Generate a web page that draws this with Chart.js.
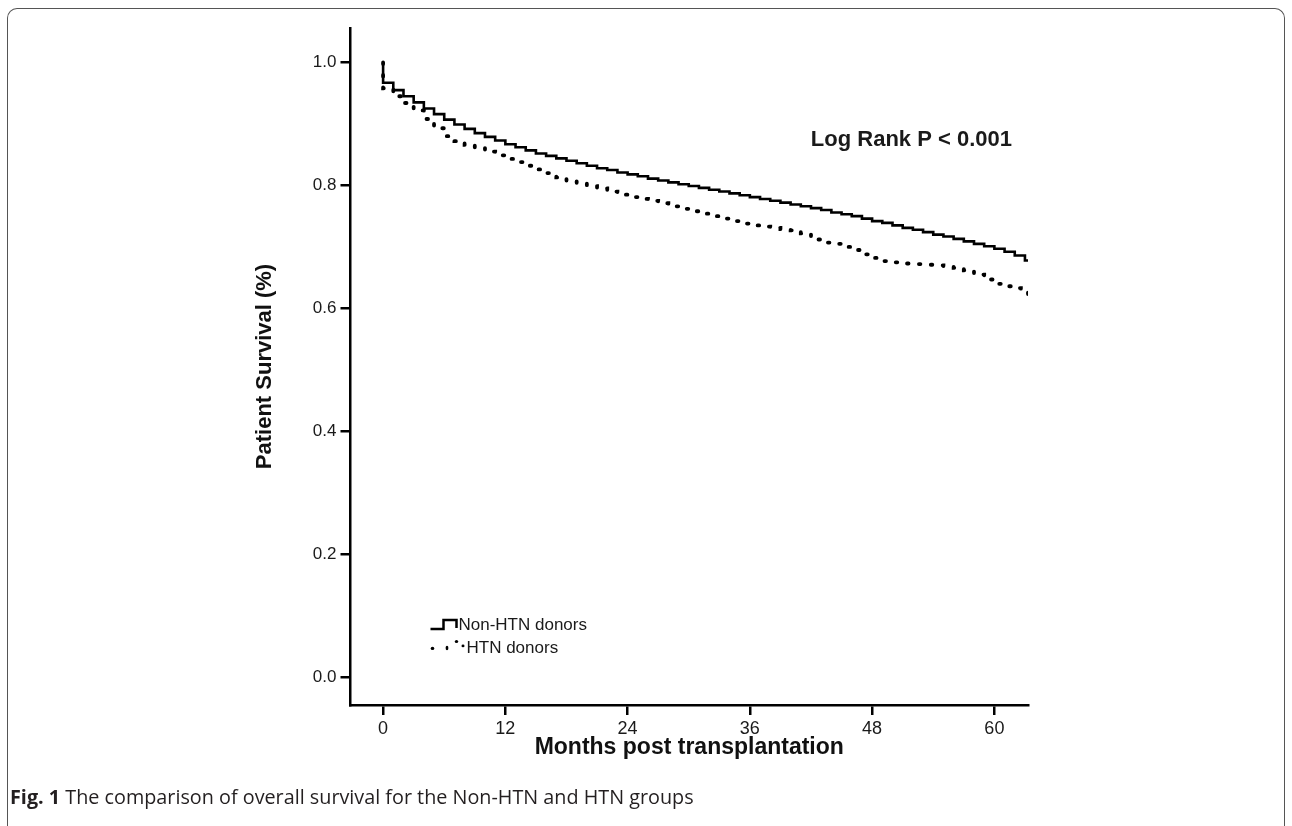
<!DOCTYPE html>
<html>
<head>
<meta charset="utf-8">
<script src="https://cdn.jsdelivr.net/npm/chart.js@4.4.1/dist/chart.umd.min.js"></script>
<style>
  html, body { margin: 0; padding: 0; background: #fff; }
  body { width: 1292px; height: 826px; position: relative; overflow: hidden; }
  #frame {
    position: absolute; left: 7px; top: 8px; width: 1276px; height: 830px;
    border: 1px solid #555; border-bottom: none; border-radius: 10px 10px 0 0;
  }
  #survivalChart { position: absolute; left: 0; top: 0; }
  #caption {
    position: absolute; left: 10px; top: 784px; font: 19.8px "Open Sans", "Noto Sans", sans-serif;
    line-height: 26px; color: #231f20; white-space: nowrap;
  }
  #caption b { font-weight: 700; }
</style>
</head>
<body>
<div id="frame"></div>
<canvas id="survivalChart" width="1292" height="826"></canvas>
<div id="caption"><b>Fig. 1</b> The comparison of overall survival for the Non-HTN and HTN groups</div>
<script>
// months post transplantation and survival proportions (Kaplan-Meier steps)
const nonHtnMonths = [0, 0, 1, 2, 3, 4, 5, 6, 7, 8, 9, 10, 11, 12, 13, 14, 15, 16, 17, 18, 19, 20,
  21, 22, 23, 24, 25, 26, 27, 28, 29, 30, 31, 32, 33, 34, 35, 36, 37, 38, 39, 40, 41, 42, 43, 44,
  45, 46, 47, 48, 49, 50, 51, 52, 53, 54, 55, 56, 57, 58, 59, 60, 61, 62, 63, 63.3];
const nonHtnSurvival = [1.0, 0.967, 0.955, 0.945, 0.935, 0.925, 0.916, 0.907, 0.899, 0.892, 0.885,
  0.879, 0.873, 0.867, 0.862, 0.857, 0.852, 0.848, 0.844, 0.840, 0.836, 0.832, 0.828, 0.825, 0.821,
  0.818, 0.815, 0.811, 0.808, 0.805, 0.802, 0.799, 0.796, 0.793, 0.790, 0.787, 0.784, 0.781, 0.778,
  0.775, 0.772, 0.769, 0.766, 0.763, 0.760, 0.756, 0.753, 0.750, 0.746, 0.742, 0.739, 0.735, 0.731,
  0.728, 0.724, 0.720, 0.717, 0.713, 0.709, 0.705, 0.701, 0.697, 0.692, 0.686, 0.678, 0.676];

const htnMonths = [0, 0, 1, 2, 3, 4, 5, 6, 7, 8, 9, 10, 11, 12, 13, 14, 15, 16, 17, 18, 19, 20,
  21, 22, 23, 24, 25, 26, 27, 28, 29, 30, 31, 32, 33, 34, 35, 36, 37, 38, 39, 40, 41, 42, 43, 44,
  45, 46, 47, 48, 49, 50, 51, 52, 53, 54, 55, 56, 57, 58, 59, 60, 61, 62, 62.6, 63.3];
const htnSurvival = [1.0, 0.958, 0.945, 0.934, 0.922, 0.908, 0.893, 0.880, 0.872, 0.866, 0.861,
  0.855, 0.849, 0.843, 0.838, 0.832, 0.826, 0.820, 0.813, 0.807, 0.803, 0.799, 0.795, 0.790, 0.785,
  0.781, 0.778, 0.775, 0.771, 0.766, 0.762, 0.758, 0.754, 0.750, 0.746, 0.742, 0.738, 0.735, 0.733,
  0.731, 0.729, 0.727, 0.722, 0.712, 0.707, 0.705, 0.700, 0.695, 0.688, 0.682, 0.677, 0.675, 0.673,
  0.672, 0.671, 0.670, 0.668, 0.666, 0.662, 0.655, 0.647, 0.640, 0.636, 0.633, 0.626, 0.618];

const xTicks = [0, 12, 24, 36, 48, 60];
const yTicks = [0.0, 0.2, 0.4, 0.6, 0.8, 1.0];
const seriesNames = ['Non-HTN donors', 'HTN donors'];
const pValueText = 'Log Rank P < 0.001';

const toPoints = (xs, ys) => xs.map((x, i) => ({ x: x, y: ys[i] }));

// legend + log-rank annotation drawn inside the plot
const insideText = {
  id: 'insideText',
  afterDraw(chart) {
    const ctx = chart.ctx;
    const ys = chart.scales.y;
    ctx.save();
    ctx.fillStyle = '#1a1a1a';
    ctx.font = 'bold 22px "Liberation Sans", Arial, sans-serif';
    ctx.textAlign = 'right';
    ctx.textBaseline = 'middle';
    ctx.fillText(pValueText, chart.chartArea.right - 16, ys.getPixelForValue(0.874));

    const lx = chart.chartArea.left + 80;
    const row1 = ys.getPixelForValue(0.085);
    const row2 = ys.getPixelForValue(0.047);
    ctx.strokeStyle = '#000';
    ctx.lineWidth = 2.5;
    ctx.beginPath();
    ctx.moveTo(lx, row1 + 4);
    ctx.lineTo(lx + 13, row1 + 4);
    ctx.lineTo(lx + 13, row1 - 5);
    ctx.lineTo(lx + 26, row1 - 5);
    ctx.lineTo(lx + 26, row1 + 3);
    ctx.stroke();

    ctx.fillStyle = '#000';
    [[2, 0, 3.6, 3.2], [16.5, -0.5, 2.8, 4.4], [26, -7, 3.4, 3], [32.5, -2.5, 3, 2.8]].forEach(d => {
      ctx.beginPath();
      ctx.ellipse(lx + d[0], row2 + d[1], d[2] / 2, d[3] / 2, 0, 0, Math.PI * 2);
      ctx.fill();
    });

    ctx.fillStyle = '#1a1a1a';
    ctx.font = '17px "Liberation Sans", Arial, sans-serif';
    ctx.textAlign = 'left';
    ctx.fillText(seriesNames[0], lx + 28, row1);
    ctx.fillText(seriesNames[1], lx + 36, row2);
    ctx.restore();
  }
};

const ctx = document.getElementById('survivalChart');
new Chart(ctx, {
  type: 'line',
  data: {
    datasets: [
      {
        label: seriesNames[0],
        data: toPoints(nonHtnMonths, nonHtnSurvival),
        borderColor: '#000',
        borderWidth: 2.6,
        stepped: 'before',
        pointRadius: 0,
        fill: false
      },
      {
        label: seriesNames[1],
        data: toPoints(htnMonths, htnSurvival),
        borderColor: '#000',
        borderWidth: 3.8,
        borderDash: [1.5, 11],
        borderCapStyle: 'round',
        stepped: 'before',
        pointRadius: 0,
        fill: false
      }
    ]
  },
  options: {
    responsive: false,
    animation: false,
    devicePixelRatio: 1,
    layout: { padding: { left: 248, top: 28, right: 264, bottom: 61 } },
    plugins: {
      legend: false,
      tooltip: { enabled: false }
    },
    scales: {
      x: {
        type: 'linear',
        min: -3.2,
        max: 63.3,
        afterBuildTicks: (s) => { s.ticks = xTicks.map(v => ({ value: v })); },
        afterFit: (s) => { s.height = 60; },
        grid: { display: true, drawOnChartArea: false, drawTicks: true, tickLength: 10, color: '#000', lineWidth: 2.5 },
        border: { display: true, color: '#000', width: 2.5 },
        ticks: { color: '#1a1a1a', padding: 3, font: { family: '"Liberation Sans", Arial, sans-serif', size: 18 } },
        title: {
          display: true,
          text: 'Months post transplantation',
          color: '#111',
          font: { family: '"Liberation Sans", Arial, sans-serif', size: 23, weight: 'bold' }
        }
      },
      y: {
        type: 'linear',
        min: -0.045,
        max: 1.056,
        afterBuildTicks: (s) => { s.ticks = yTicks.map(v => ({ value: v })); },
        afterFit: (s) => { s.width = 102.5; },
        grid: { display: true, drawOnChartArea: false, drawTicks: true, tickLength: 10, color: '#000', lineWidth: 2.5 },
        border: { display: true, color: '#000', width: 2.5 },
        ticks: {
          color: '#1a1a1a',
          padding: 4,
          font: { family: '"Liberation Sans", Arial, sans-serif', size: 17 },
          callback: (v) => v.toFixed(1)
        },
        title: {
          display: true,
          text: 'Patient Survival (%)',
          color: '#111',
          font: { family: '"Liberation Sans", Arial, sans-serif', size: 22, weight: 'bold' }
        }
      }
    }
  },
  plugins: [insideText]
});
</script>
</body>
</html>
